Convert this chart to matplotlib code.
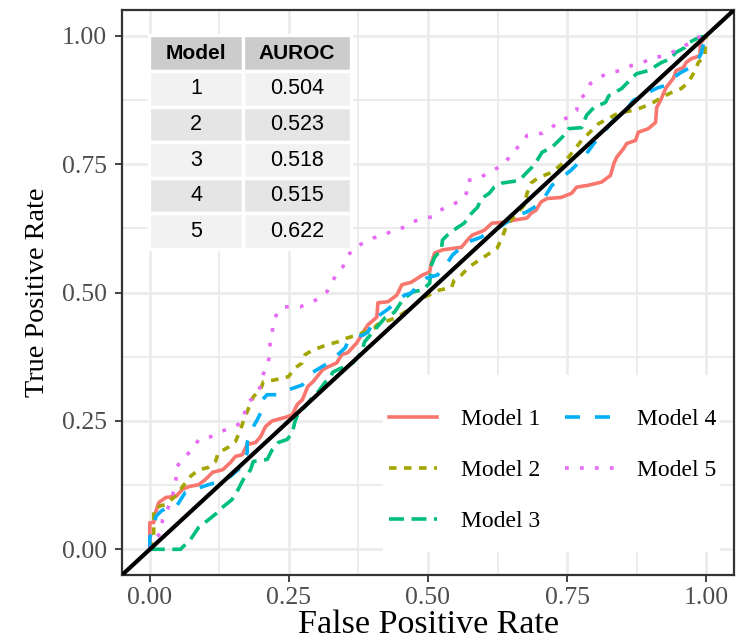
import numpy as np
import matplotlib
matplotlib.use("Agg")
import matplotlib.pyplot as plt
from matplotlib.ticker import MultipleLocator
from matplotlib.patches import Rectangle

# ROC curves (false positive rate, true positive rate)
fpr_1 = [0, 0, 0.007, 0.011, 0.016, 0.029, 0.047, 0.059, 0.070, 0.088, 0.100, 0.113, 0.131, 0.145,
         0.154, 0.166, 0.175, 0.190, 0.199, 0.208, 0.220, 0.247, 0.256, 0.265, 0.274, 0.284, 0.293,
         0.311, 0.320, 0.336, 0.345, 0.356, 0.372, 0.386, 0.392, 0.408, 0.410, 0.428, 0.444, 0.453,
         0.470, 0.490, 0.503, 0.506, 0.512, 0.526, 0.560, 0.574, 0.580, 0.601, 0.615, 0.640, 0.655,
         0.678, 0.685, 0.694, 0.703, 0.714, 0.739, 0.758, 0.767, 0.789, 0.812, 0.828, 0.834, 0.839,
         0.852, 0.857, 0.873, 0.878, 0.896, 0.909, 0.911, 0.918, 0.923, 0.928, 0.941, 0.946, 0.959,
         0.964, 0.973, 0.989, 0.989, 1]
tpr_1 = [0, 0.052, 0.052, 0.074, 0.091, 0.101, 0.103, 0.117, 0.122, 0.126, 0.136, 0.150, 0.155, 0.169,
         0.181, 0.184, 0.204, 0.208, 0.219, 0.239, 0.250, 0.258, 0.262, 0.282, 0.291, 0.317, 0.326,
         0.350, 0.355, 0.363, 0.379, 0.383, 0.402, 0.427, 0.437, 0.452, 0.480, 0.482, 0.495, 0.515,
         0.520, 0.534, 0.540, 0.557, 0.577, 0.583, 0.588, 0.606, 0.612, 0.621, 0.635, 0.637, 0.641,
         0.645, 0.654, 0.660, 0.676, 0.683, 0.685, 0.693, 0.705, 0.709, 0.715, 0.728, 0.751, 0.763,
         0.781, 0.790, 0.796, 0.812, 0.819, 0.831, 0.860, 0.874, 0.887, 0.899, 0.917, 0.932, 0.938,
         0.948, 0.955, 0.961, 0.984, 1]

fpr_2 = [0, 0.007, 0.007, 0.020, 0.029, 0.043, 0.059, 0.073, 0.088, 0.104, 0.118, 0.123, 0.140, 0.154,
         0.163, 0.168, 0.175, 0.186, 0.199, 0.204, 0.225, 0.249, 0.261, 0.274, 0.279, 0.293, 0.318,
         0.338, 0.356, 0.374, 0.392, 0.404, 0.408, 0.445, 0.472, 0.490, 0.521, 0.542, 0.547, 0.560,
         0.574, 0.592, 0.606, 0.624, 0.633, 0.640, 0.649, 0.660, 0.673, 0.678, 0.685, 0.699, 0.723,
         0.748, 0.776, 0.789, 0.807, 0.825, 0.843, 0.866, 0.884, 0.902, 0.920, 0.937, 0.955, 0.968,
         0.980, 0.986, 0.998, 0.998, 1]
tpr_2 = [0, 0.025, 0.078, 0.085, 0.087, 0.101, 0.122, 0.142, 0.155, 0.159, 0.171, 0.188, 0.198, 0.210,
         0.233, 0.249, 0.268, 0.297, 0.311, 0.326, 0.330, 0.336, 0.353, 0.363, 0.379, 0.388, 0.398,
         0.404, 0.412, 0.417, 0.427, 0.431, 0.437, 0.452, 0.472, 0.489, 0.505, 0.509, 0.524, 0.534,
         0.550, 0.563, 0.573, 0.586, 0.606, 0.627, 0.641, 0.654, 0.670, 0.693, 0.713, 0.724, 0.734,
         0.757, 0.796, 0.810, 0.829, 0.839, 0.850, 0.854, 0.860, 0.868, 0.880, 0.889, 0.897, 0.909,
         0.932, 0.948, 0.961, 0.984, 1]

fpr_3 = [0, 0.055, 0.073, 0.088, 0.106, 0.122, 0.132, 0.148, 0.159, 0.168, 0.181, 0.186, 0.211, 0.220,
         0.231, 0.247, 0.256, 0.261, 0.267, 0.279, 0.292, 0.302, 0.315, 0.324, 0.329, 0.342, 0.351,
         0.365, 0.381, 0.386, 0.401, 0.422, 0.440, 0.454, 0.472, 0.490, 0.503, 0.506, 0.512, 0.524,
         0.526, 0.535, 0.551, 0.565, 0.578, 0.589, 0.596, 0.610, 0.619, 0.633, 0.664, 0.676, 0.687,
         0.696, 0.705, 0.723, 0.741, 0.753, 0.776, 0.785, 0.798, 0.819, 0.825, 0.848, 0.866, 0.875,
         0.896, 0.905, 0.920, 0.936, 0.945, 0.962, 0.968, 0.986, 1]
tpr_3 = [0, 0, 0.019, 0.043, 0.058, 0.072, 0.083, 0.097, 0.117, 0.136, 0.155, 0.171, 0.175, 0.194,
         0.208, 0.214, 0.227, 0.249, 0.266, 0.278, 0.295, 0.306, 0.325, 0.334, 0.345, 0.352, 0.355,
         0.363, 0.384, 0.404, 0.423, 0.450, 0.462, 0.485, 0.501, 0.505, 0.518, 0.553, 0.569, 0.583,
         0.602, 0.612, 0.625, 0.635, 0.654, 0.666, 0.683, 0.693, 0.705, 0.713, 0.718, 0.732, 0.744,
         0.757, 0.773, 0.783, 0.802, 0.819, 0.821, 0.845, 0.860, 0.870, 0.883, 0.897, 0.917, 0.926,
         0.932, 0.938, 0.948, 0.955, 0.967, 0.977, 0.986, 0.996, 1]

fpr_4 = [0, 0, 0.007, 0.011, 0.020, 0.032, 0.047, 0.059, 0.064, 0.082, 0.100, 0.136, 0.145, 0.163,
         0.175, 0.175, 0.186, 0.193, 0.202, 0.202, 0.211, 0.229, 0.234, 0.261, 0.274, 0.292, 0.301,
         0.324, 0.351, 0.356, 0.369, 0.383, 0.392, 0.404, 0.413, 0.426, 0.445, 0.458, 0.470, 0.485,
         0.497, 0.517, 0.524, 0.538, 0.544, 0.560, 0.571, 0.596, 0.605, 0.628, 0.642, 0.658, 0.676,
         0.703, 0.708, 0.723, 0.732, 0.750, 0.757, 0.771, 0.780, 0.798, 0.803, 0.819, 0.828, 0.846,
         0.855, 0.869, 0.884, 0.902, 0.914, 0.927, 0.936, 0.941, 0.954, 0.968, 0.982, 0.991, 0.995, 1]
tpr_4 = [0, 0.023, 0.043, 0.064, 0.074, 0.082, 0.082, 0.103, 0.111, 0.117, 0.124, 0.136, 0.142, 0.159,
         0.188, 0.208, 0.239, 0.252, 0.272, 0.291, 0.301, 0.301, 0.305, 0.315, 0.320, 0.344, 0.350,
         0.365, 0.392, 0.404, 0.414, 0.417, 0.423, 0.447, 0.456, 0.466, 0.482, 0.495, 0.499, 0.518,
         0.528, 0.534, 0.544, 0.563, 0.573, 0.588, 0.598, 0.608, 0.616, 0.627, 0.637, 0.650, 0.656,
         0.674, 0.683, 0.709, 0.715, 0.732, 0.738, 0.753, 0.763, 0.790, 0.796, 0.816, 0.829, 0.849,
         0.854, 0.874, 0.883, 0.893, 0.899, 0.903, 0.913, 0.918, 0.928, 0.936, 0.948, 0.965, 0.984, 1]

fpr_5 = [0, 0.005, 0.020, 0.023, 0.032, 0.043, 0.047, 0.047, 0.059, 0.079, 0.088, 0.109, 0.127, 0.148,
         0.166, 0.175, 0.186, 0.199, 0.202, 0.211, 0.216, 0.216, 0.220, 0.222, 0.229, 0.240, 0.270,
         0.292, 0.309, 0.318, 0.327, 0.336, 0.347, 0.354, 0.365, 0.383, 0.401, 0.422, 0.436, 0.458,
         0.472, 0.490, 0.508, 0.521, 0.542, 0.560, 0.569, 0.571, 0.592, 0.606, 0.624, 0.640, 0.649,
         0.669, 0.678, 0.705, 0.723, 0.735, 0.753, 0.767, 0.771, 0.785, 0.792, 0.807, 0.825, 0.846,
         0.866, 0.887, 0.902, 0.928, 0.945, 0.962, 0.980, 0.991, 1]
tpr_5 = [0, 0.014, 0.033, 0.058, 0.078, 0.113, 0.136, 0.159, 0.175, 0.198, 0.214, 0.219, 0.229, 0.237,
         0.247, 0.285, 0.295, 0.317, 0.336, 0.359, 0.379, 0.398, 0.423, 0.443, 0.460, 0.472, 0.472,
         0.482, 0.491, 0.501, 0.518, 0.538, 0.550, 0.567, 0.586, 0.596, 0.606, 0.612, 0.621, 0.627,
         0.637, 0.645, 0.647, 0.660, 0.670, 0.680, 0.693, 0.718, 0.722, 0.732, 0.742, 0.753, 0.771,
         0.790, 0.806, 0.810, 0.821, 0.835, 0.841, 0.854, 0.874, 0.889, 0.907, 0.918, 0.928, 0.932,
         0.942, 0.948, 0.957, 0.961, 0.971, 0.981, 0.990, 1.0, 1]

models = ["1", "2", "3", "4", "5"]
auroc = ["0.504", "0.523", "0.518", "0.515", "0.622"]
labels = ["Model 1", "Model 2", "Model 3", "Model 4", "Model 5"]
colors = ["#F8766D", "#A3A500", "#00BF7D", "#00B0F6", "#E76BF3"]
# ggplot linetypes solid, 22, 42, 44, 13 (in units of line width)
dash_styles = [None, (2.08, 2.08), (4.15, 2.08), (4.15, 4.15), (1.04, 3.1)]

curves = [(fpr_1, tpr_1), (fpr_2, tpr_2), (fpr_3, tpr_3), (fpr_4, tpr_4), (fpr_5, tpr_5)]

plt.rcParams['font.family'] = ['Liberation Serif', 'DejaVu Serif']

fig = plt.figure(figsize=(7.37, 6.44), dpi=100)
ax = fig.add_axes([122 / 737, 1 - 575 / 644, 612 / 737, 565 / 644])

handles = []
for i, (fx, ty) in enumerate(curves):
    line, = ax.plot(fx, ty, color=colors[i], lw=2.6, label=labels[i], zorder=3 + i * 0.1,
                    solid_joinstyle='round')
    if dash_styles[i] is not None:
        line.set_dashes(dash_styles[i])
    handles.append(line)

ax.axline((0, 0), slope=1, color='black', lw=3.0, zorder=4)

ax.set_xlim(-0.05, 1.05)
ax.set_ylim(-0.05, 1.05)
ax.xaxis.set_major_locator(MultipleLocator(0.25))
ax.yaxis.set_major_locator(MultipleLocator(0.25))
ax.xaxis.set_minor_locator(MultipleLocator(0.125))
ax.yaxis.set_minor_locator(MultipleLocator(0.125))
ax.xaxis.set_major_formatter(lambda v, p: f"{v:.2f}")
ax.yaxis.set_major_formatter(lambda v, p: f"{v:.2f}")

ax.grid(True, which='major', color='#EBEBEB', lw=1.9, zorder=0)
ax.grid(True, which='minor', color='#EBEBEB', lw=1.3, zorder=0)
ax.set_axisbelow(True)
for s in ax.spines.values():
    s.set_color('#333333')
    s.set_linewidth(1.6)

ax.tick_params(which='major', direction='out', length=5, width=1.3, color='#333333',
               labelcolor='#4D4D4D', labelsize=18.5)
ax.tick_params(which='minor', length=0)
ax.tick_params(axis='x', pad=4)
ax.tick_params(axis='y', pad=6)

ax.set_xlabel("False Positive Rate", fontsize=24.5, labelpad=0)
ax.set_ylabel("True Positive Rate", fontsize=20.3, labelpad=8)

# AUROC table in the upper left corner
cell_colours = [["#F2F2F2"] * 2 if r % 2 == 0 else ["#E5E5E5"] * 2 for r in range(len(models))]
tab = ax.table(cellText=[[m, a] for m, a in zip(models, auroc)],
               colLabels=["Model", "AUROC"],
               cellColours=cell_colours, colColours=["#CCCCCC"] * 2,
               cellLoc='center', colWidths=[0.464, 0.536],
               bbox=[0.0449, 0.577, 0.3292, 0.3779], zorder=6)
tab.auto_set_font_size(False)
for (r, c), cell in tab.get_celld().items():
    cell.set_edgecolor('white')
    cell.set_linewidth(2.4)
    txt = cell.get_text()
    txt.set_fontfamily('Liberation Sans')
    txt.set_fontsize(15.5)
    if r == 0:
        txt.set_fontweight('bold')
        txt.set_fontsize(15)

# legend on a white box in the lower right corner
ax.add_patch(Rectangle((0.4265, 0.0407), 0.5505, 0.3133, transform=ax.transAxes,
                       facecolor='white', edgecolor='none', zorder=5))
leg = ax.legend(handles=handles, ncol=2, loc='center', bbox_to_anchor=(0.704, 0.185),
                frameon=False, fontsize=17, handlelength=2.05, handletextpad=1.0,
                columnspacing=1.05, labelspacing=1.25)
leg.set_zorder(7)

fig.savefig("out.png", dpi=100)
